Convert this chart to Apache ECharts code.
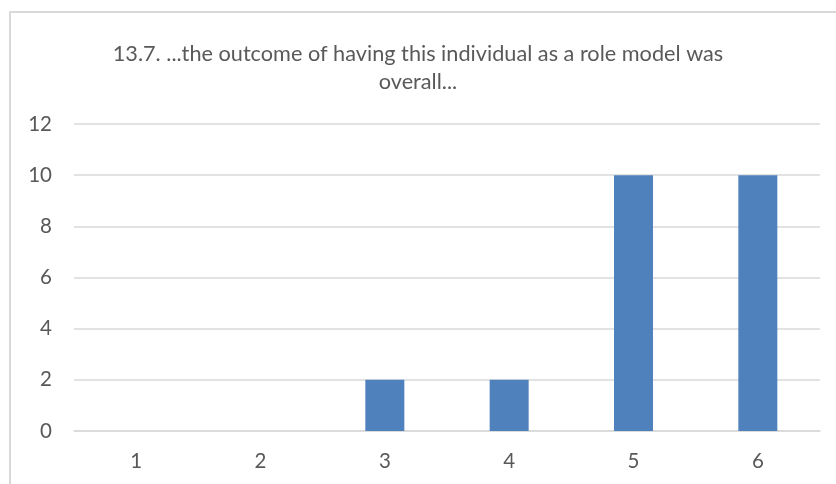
<!DOCTYPE html>
<html>
<head>
<meta charset="utf-8">
<script src="https://cdn.jsdelivr.net/npm/echarts@6/dist/echarts.min.js"></script>
<style>
  html, body { margin: 0; padding: 0; background: #fff; }
  #chart { width: 836px; height: 484px; }
</style>
</head>
<body>
<div id="chart"></div>
<script>
// Response counts per rating
const categories = ['1', '2', '3', '4', '5', '6'];
const counts = [0, 0, 2, 2, 10, 10];
const yTicks = { min: 0, max: 12, interval: 2 };
const titleText = '13.7. ...the outcome of having this individual as a role model was\noverall...';

const chart = echarts.init(document.getElementById('chart'), null, { renderer: 'canvas' });
const textColor = '#595959';
const fontFamily = 'Lato, "Open Sans", sans-serif';

chart.setOption({
  animation: false,
  backgroundColor: '#ffffff',
  title: {
    text: titleText,
    left: 'center',
    top: 35,
    textStyle: {
      color: textColor,
      fontFamily: fontFamily,
      fontSize: 21.7,
      fontWeight: 'normal',
      lineHeight: 28
    }
  },
  graphic: [{
    type: 'rect',
    silent: true,
    shape: { x: 10, y: 12, width: 900, height: 600 },
    style: { fill: 'none', stroke: '#d9d9d9', lineWidth: 2 }
  }],
  grid: { left: 74, right: 16, top: 124, bottom: 53, containLabel: false },
  xAxis: {
    type: 'category',
    data: categories,
    axisLine: { show: true, lineStyle: { color: '#d9d9d9', width: 1.5 } },
    axisTick: { show: false },
    axisLabel: { color: textColor, fontFamily: fontFamily, fontSize: 20.5, margin: 20 }
  },
  yAxis: {
    type: 'value',
    min: yTicks.min,
    max: yTicks.max,
    interval: yTicks.interval,
    axisLine: { show: false },
    axisTick: { show: false },
    splitLine: { lineStyle: { color: '#d9d9d9', width: 1.5 } },
    axisLabel: { color: textColor, fontFamily: fontFamily, fontSize: 20.5, margin: 22, align: 'right' }
  },
  series: [{
    type: 'bar',
    data: counts,
    barWidth: 39,
    itemStyle: { color: '#4f81bd' }
  }]
});
</script>
</body>
</html>
